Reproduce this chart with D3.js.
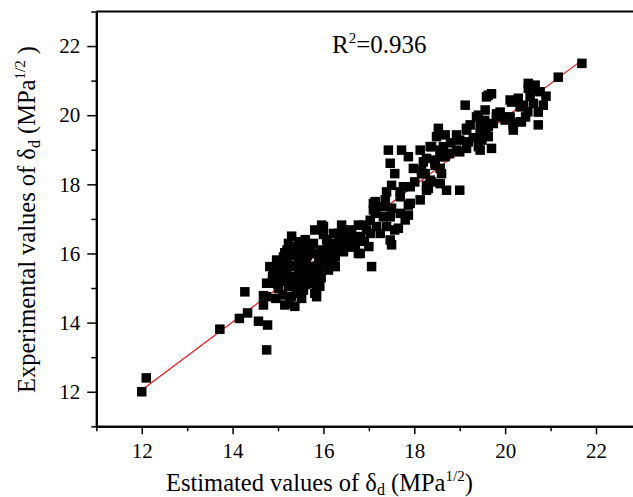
<!DOCTYPE html>
<html>
<head>
<meta charset="utf-8">
<script src="https://cdn.jsdelivr.net/npm/d3@7"></script>
<style>
  body { margin: 0; background: #fff; }
  text { font-family: "Liberation Serif", "Times New Roman", serif; fill: #000; }
</style>
</head>
<body>
<svg id="chart"></svg>
<script>
// estimated (x) and experimental (y) values of delta_d
const estimated = [
  12.0, 12.1, 13.72, 14.15, 14.27, 14.33, 14.57, 14.77, 14.75, 14.68, 14.74,
  14.86, 14.88, 14.9, 15.0, 15.12, 15.15, 15.23, 15.3, 15.45, 15.3, 14.97, 14.82, 14.75, 14.68,
  15.15, 15.26, 15.37, 15.52, 15.81, 15.85, 15.70, 15.45, 15.23, 15.01, 14.93, 15.15, 15.45, 15.78,
  15.96, 16.11, 16.26, 16.44, 16.62, 16.77, 16.55, 16.18, 15.74, 15.52, 15.60, 15.30, 15.96, 16.26,
  15.85, 15.92, 15.30, 15.56, 15.41, 15.41, 15.63, 15.26, 14.97, 15.78, 15.85, 15.56, 15.78, 16.07,
  16.22, 16.44, 16.18, 16.07, 15.85, 16.11, 15.96, 15.81, 16.40, 16.33, 16.77, 16.95, 17.03, 16.59,
  16.81, 17.06, 15.0, 15.1, 15.2, 15.35, 15.5, 15.65, 15.7, 15.9, 16.0, 16.15, 16.35, 15.4, 15.6,
  16.0, 16.22, 16.44, 16.62, 16.88, 16.81, 16.51, 16.55, 17.03, 17.14, 17.10, 17.14, 17.17, 17.39,
  17.57, 17.47, 17.50, 17.25, 17.32, 17.47, 17.50, 17.69, 17.80, 17.65, 17.87, 17.87, 17.91, 17.32,
  17.10, 17.36, 17.14, 17.69, 18.13, 17.39, 17.50, 17.69, 17.76, 17.91, 18.01, 18.27, 18.31, 18.38,
  18.57, 18.71, 18.24, 17.57, 17.98, 18.16, 18.60, 18.46, 17.47, 17.87, 17.43, 17.72, 18.13, 18.27,
  18.57, 18.35, 18.57, 18.46, 18.68, 18.71, 18.93, 19.0, 18.16, 18.20, 18.46, 18.57, 18.35, 18.27,
  18.38, 18.64, 18.78, 19.0, 19.15, 19.41, 19.45, 19.70, 19.49, 19.19, 19.0, 18.49, 18.68, 18.93,
  18.53, 19.15, 19.45, 19.63, 19.23, 19.15, 19.59, 19.74, 19.45, 19.63, 19.37, 19.41, 19.56, 19.81,
  19.81, 20.0, 20.0, 19.89, 20.11, 20.18, 20.18, 20.18, 20.33, 20.36, 20.73, 20.73, 20.33, 20.40,
  20.62, 20.84, 20.11, 20.14, 20.29, 19.59, 19.63, 19.70, 19.12, 20.51, 20.66, 20.51, 20.77, 20.58,
  21.17, 21.69,
  15.05, 15.1, 15.2, 15.25, 15.35, 15.4, 15.5, 15.55, 15.6, 15.65, 15.7, 15.75, 15.8, 15.9, 15.95,
  16.05, 16.1, 16.2, 16.3, 16.4, 16.5, 16.65, 16.7, 15.45, 15.35, 15.2, 15.0, 15.1, 14.95, 16.9, 17.0,
  18.8, 19.3, 19.55, 20.5, 20.55, 20.9, 20.45
];
const experimental = [
  12.0, 12.4, 13.81, 14.12, 14.89, 14.28, 14.04, 13.93, 13.21, 14.51, 14.75,
  15.14, 15.33, 15.52, 15.71, 15.9, 16.02, 16.29, 16.5, 16.34, 16.05, 15.81, 15.62, 15.14, 14.78,
  14.51, 14.56, 14.47, 14.70, 14.85, 14.75, 15.14, 15.09, 15.04, 14.99, 15.33, 15.42, 15.42, 15.42,
  15.62, 15.81, 15.9, 16.1, 16.19, 16.0, 16.34, 16.29, 16.19, 16.0, 15.71, 15.66, 16.1, 15.62,
  15.37, 15.05, 14.75, 14.94, 15.62, 15.33, 15.81, 15.09, 15.28, 15.23, 15.0, 16.19, 16.29, 16.39,
  16.29, 16.05, 15.95, 15.71, 15.62, 15.52, 16.82, 16.68, 16.82, 16.58, 16.82, 16.68, 16.58, 16.39,
  16.0, 15.62, 15.5, 15.2, 15.8, 15.95, 15.5, 15.45, 16.0, 15.85, 16.55, 16.05, 16.45, 16.2, 16.4,
  16.78, 16.58, 16.68, 16.68, 16.82, 16.49, 16.39, 16.19, 16.96, 17.40, 17.26, 17.16, 16.78, 16.78,
  16.68, 16.39, 16.25, 16.58, 17.06, 17.06, 17.31, 17.16, 16.97, 16.73, 17.11, 17.40, 17.45, 17.35,
  17.45, 17.55, 17.50, 17.64, 17.55, 17.78, 17.97, 17.78, 17.93, 17.93, 18.07, 17.97, 17.88, 18.07,
  18.02, 17.83, 18.31, 18.31, 18.46, 18.31, 18.31, 18.61, 18.61, 18.80, 18.99, 18.99, 18.99, 18.75,
  18.80, 19.09, 18.99, 18.55, 18.80, 18.89, 18.99, 17.83, 18.41, 18.65, 18.70, 18.46, 18.12, 17.83,
  19.09, 19.09, 18.89, 18.94, 19.04, 19.09, 18.99, 19.04, 19.28, 19.23, 19.28, 19.38, 19.43, 19.43,
  19.62, 19.57, 19.47, 19.38, 19.72, 19.62, 19.62, 19.76, 19.72, 19.67, 19.95, 20.0, 20.15, 20.04,
  19.95, 19.95, 19.86, 20.09, 19.95, 19.67, 19.57, 19.76, 19.81, 19.81, 19.72, 20.09, 20.24, 20.29,
  20.34, 20.29, 20.44, 20.38, 20.49, 20.53, 20.58, 20.62, 20.29, 20.78, 20.87, 20.92, 20.68, 20.72,
  21.10, 21.50,
  15.45, 15.65, 15.55, 15.3, 15.2, 14.85, 15.25, 15.7, 15.1, 15.95, 15.3, 15.6, 16.0, 15.55, 15.3,
  15.95, 16.2, 15.75, 16.15, 16.35, 16.6, 16.45, 16.25, 15.8, 16.1, 16.1, 15.1, 14.8, 14.7, 16.35, 16.2,
  19.2, 19.35, 19.85, 20.1, 20.55, 20.55, 19.95
];

// fitted line end points
const fitX = [12.0, 21.7];
const fitY = [12.05, 21.6];

const majorTicks = [12, 14, 16, 18, 20, 22];
const minorTicks = [11, 13, 15, 17, 19, 21, 23];
const r2Label = "0.936";

const width = 633, height = 497;

const svg = d3.select("#chart")
  .attr("width", width)
  .attr("height", height);

const x = d3.scaleLinear().domain([11, 23]).range([96.3, 641.4]);
const y = d3.scaleLinear().domain([11, 23]).range([426.3, 11.5]);

// frame top and right lines (right edge falls outside the picture)
svg.append("line")
  .attr("x1", x(11)).attr("x2", x(23))
  .attr("y1", y(23)).attr("y2", y(23))
  .attr("stroke", "#000").attr("stroke-width", 2);
svg.append("line")
  .attr("x1", x(23)).attr("x2", x(23))
  .attr("y1", y(23)).attr("y2", y(11))
  .attr("stroke", "#000").attr("stroke-width", 2);

// fitted line
svg.append("line")
  .attr("x1", x(fitX[0])).attr("y1", y(fitY[0]))
  .attr("x2", x(fitX[1])).attr("y2", y(fitY[1]))
  .attr("stroke", "#e8161b").attr("stroke-width", 1.2);

// points
const pts = estimated.map((v, i) => ({ x: v, y: experimental[i] }));
const s = 9.5;
svg.append("g")
  .selectAll("rect")
  .data(pts)
  .join("rect")
  .attr("x", d => x(d.x) - s / 2)
  .attr("y", d => y(d.y) - s / 2)
  .attr("width", s)
  .attr("height", s)
  .attr("fill", "#000");

// axes
const xMajor = svg.append("g")
  .attr("transform", `translate(0,${y(11)})`)
  .call(d3.axisBottom(x).tickValues(majorTicks).tickSize(8).tickPadding(9).tickSizeOuter(0));
const xMinor = svg.append("g")
  .attr("transform", `translate(0,${y(11)})`)
  .call(d3.axisBottom(x).tickValues(minorTicks).tickSize(5).tickFormat("").tickSizeOuter(0));
const yMajor = svg.append("g")
  .attr("transform", `translate(${x(11)},0)`)
  .call(d3.axisLeft(y).tickValues(majorTicks).tickSize(9).tickPadding(7).tickSizeOuter(0));
const yMinor = svg.append("g")
  .attr("transform", `translate(${x(11)},0)`)
  .call(d3.axisLeft(y).tickValues(minorTicks).tickSize(5).tickFormat("").tickSizeOuter(0));

[xMajor, xMinor, yMajor, yMinor].forEach(g => {
  g.select(".domain").attr("stroke", "#000").attr("stroke-width", 2);
  g.selectAll(".tick line").attr("stroke", "#000").attr("stroke-width", 1.5);
  g.selectAll(".tick text")
    .attr("font-family", '"Liberation Serif", serif')
    .attr("font-size", 21)
    .attr("fill", "#000");
});

// x axis title
const xt = svg.append("text")
  .attr("x", 166)
  .attr("y", 491)
  .attr("font-size", 24.5);
xt.append("tspan").text("Estimated values of δ");
xt.append("tspan").attr("font-size", 16).attr("dy", 4).text("d");
xt.append("tspan").attr("dy", -4).text(" (MPa");
xt.append("tspan").attr("font-size", 15).attr("dy", -10).text("1/2");
xt.append("tspan").attr("dy", 10).text(")");

// y axis title
const yt = svg.append("text")
  .attr("transform", "translate(35,393) rotate(-90)")
  .attr("font-size", 24.5);
yt.append("tspan").text("Experimental values of δ");
yt.append("tspan").attr("font-size", 16).attr("dy", 5).text("d");
yt.append("tspan").attr("dy", -5).text(" (MPa");
yt.append("tspan").attr("font-size", 15).attr("dy", -10).text("1/2");
yt.append("tspan").attr("dy", 10).text(" )");

// R squared
const rt = svg.append("text")
  .attr("x", 332)
  .attr("y", 53)
  .attr("font-size", 25);
rt.append("tspan").text("R");
rt.append("tspan").attr("font-size", 15).attr("dy", -10).text("2");
rt.append("tspan").attr("dy", 10).text("=" + r2Label);
</script>
</body>
</html>
